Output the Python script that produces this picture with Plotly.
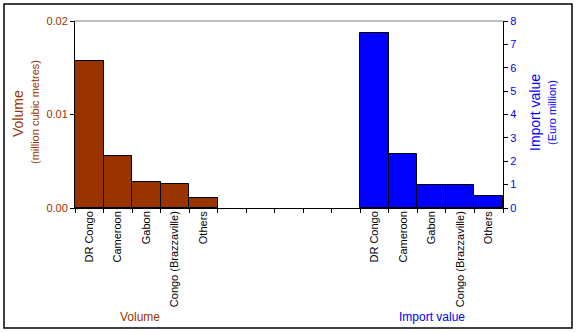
import plotly.graph_objects as go

countries = ["DR Congo", "Cameroon", "Gabon", "Congo (Brazzaville)", "Others"]
volume = [0.0157, 0.0056, 0.0028, 0.0026, 0.0011]          # million cubic metres
import_value = [7.5, 2.3, 1.0, 1.0, 0.5]                    # Euro million
n_gap = 5

BROWN = "#993300"
BLUE = "#0000FF"
W, H = 577, 332
L, R, T, B = 75, 74, 21, 124
pw, ph = W - L - R, H - T - B

n = len(countries)
total = 2 * n + n_gap
vol_x = [i + 0.5 for i in range(n)]
imp_x = [n + n_gap + i + 0.5 for i in range(n)]

def px_x(p):
    return (p - L) / pw

def px_y(p):
    return (T + ph - p) / ph

fig = go.Figure()
fig.add_trace(go.Bar(x=vol_x, y=volume, width=1, marker=dict(color=BROWN, line=dict(color="black", width=1)),
                     xaxis="x", yaxis="y", showlegend=False))
fig.add_trace(go.Bar(x=imp_x, y=import_value, width=1, marker=dict(color=BLUE, line=dict(color="black", width=1)),
                     xaxis="x", yaxis="y2", showlegend=False))

font = "Liberation Sans, Arial, sans-serif"
fig.update_layout(
    width=W, height=H,
    margin=dict(l=L, r=R, t=T, b=B, autoexpand=False),
    paper_bgcolor="white", plot_bgcolor="white",
    font=dict(family=font, size=11, color="black"),
    bargap=0,
    xaxis=dict(range=[0, total], tickvals=list(range(total + 1)), showticklabels=False,
               ticks="outside", ticklen=4, tickcolor="black", showline=True, linecolor="black",
               linewidth=1, showgrid=False, zeroline=False, fixedrange=True),
    xaxis2=dict(range=[0, total], overlaying="x", side="bottom", tickvals=vol_x + imp_x,
                ticktext=countries + countries, tickangle=-90, ticks="", showline=False,
                showgrid=False, zeroline=False, tickfont=dict(size=11, color="black")),
    yaxis=dict(range=[0, 0.02], tickvals=[0, 0.01, 0.02], ticktext=["0.00", "0.01", "0.02"],
               ticks="outside", ticklen=4, tickcolor="black", showline=True, linecolor="black",
               showgrid=False, zeroline=False, tickfont=dict(size=11, color=BROWN)),
    yaxis2=dict(range=[0, 8], overlaying="y", side="right", tickvals=list(range(9)),
                ticks="outside", ticklen=4, tickcolor="black", showline=True, linecolor="black",
                showgrid=False, zeroline=False, tickfont=dict(size=11, color=BLUE)),
)

# invisible trace to activate the label axis
fig.add_trace(go.Scatter(x=[0], y=[0], xaxis="x2", yaxis="y", mode="markers",
                         marker=dict(opacity=0), showlegend=False, hoverinfo="skip"))

shapes = [
    dict(type="line", xref="paper", yref="paper", x0=0, x1=1, y0=1, y1=1,
         line=dict(color="#808080", width=1)),
    dict(type="rect", xref="paper", yref="paper", x0=px_x(4), x1=px_x(572), y0=px_y(328), y1=px_y(4),
         line=dict(color="black", width=1.5), fillcolor="rgba(0,0,0,0)"),
]
fig.update_layout(shapes=shapes)

ann = [
    dict(text="Volume", x=px_x(18), y=px_y(114), textangle=-90, font=dict(size=14, color=BROWN)),
    dict(text="(million cubic metres)", x=px_x(35), y=px_y(112), textangle=-90, font=dict(size=11, color=BROWN)),
    dict(text="Import value", x=px_x(535), y=px_y(113), textangle=-90, font=dict(size=14, color=BLUE)),
    dict(text="(Euro million)", x=px_x(552), y=px_y(113), textangle=-90, font=dict(size=11, color=BLUE)),
    dict(text="Volume", x=px_x(140), y=px_y(317), font=dict(size=12, color=BROWN)),
    dict(text="Import value", x=px_x(432), y=px_y(317), font=dict(size=12, color=BLUE)),
]
for a in ann:
    a.update(xref="paper", yref="paper", showarrow=False, xanchor="center", yanchor="middle")
fig.update_layout(annotations=ann)

fig.write_html("out.html")
